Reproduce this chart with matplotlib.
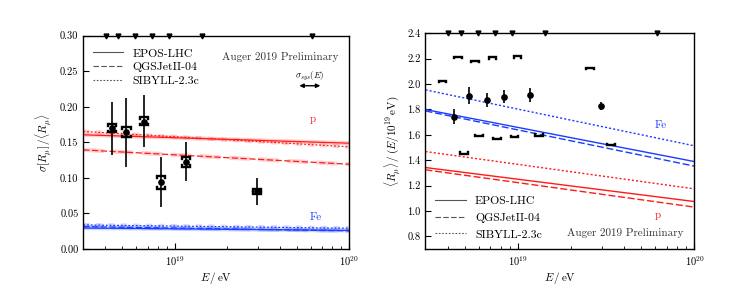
import numpy as np
import matplotlib
matplotlib.use('Agg')
import matplotlib.pyplot as plt
from matplotlib.ticker import FormatStrFormatter, LogLocator, NullFormatter, MultipleLocator
from matplotlib.lines import Line2D

plt.rcParams['font.family'] = 'cmr10'
plt.rcParams['mathtext.fontset'] = 'cm'
plt.rcParams['axes.formatter.use_mathtext'] = True
plt.rcParams['font.size'] = 7.5

# energy bins (log10 E/eV)
lgE = [18.641, 18.724, 18.823, 18.921, 19.066, 19.470]
lgE_edges = [18.607, 18.676, 18.773, 18.870, 18.968, 19.156, 19.788]

# left: sigma[R_mu]/<R_mu>
sig = [0.170, 0.164, 0.179, 0.094, 0.122, 0.081]
sig_stat_lo = [0.132, 0.115, 0.143, 0.059, 0.096, 0.062]
sig_stat_hi = [0.207, 0.212, 0.216, 0.130, 0.150, 0.100]
sig_sys_lo = [0.164, 0.157, 0.174, 0.085, 0.116, 0.078]
sig_sys_hi = [0.176, 0.171, 0.185, 0.102, 0.129, 0.084]

# right: <R_mu>/(E/10^19 eV)
rmu = [1.741, 1.909, 1.875, 1.899, 1.914, 1.828]
rmu_stat_lo = [1.683, 1.841, 1.817, 1.849, 1.862, 1.794]
rmu_stat_hi = [1.804, 1.975, 1.928, 1.954, 1.967, 1.859]
lgE_sys_up = [18.574, 18.659, 18.757, 18.857, 18.998, 19.410]
rmu_sys_up = [2.027, 2.217, 2.185, 2.210, 2.218, 2.128]
lgE_sys_dn = [18.697, 18.781, 18.881, 18.981, 19.119, 19.527]
rmu_sys_dn = [1.450, 1.590, 1.563, 1.582, 1.592, 1.518]

# model predictions at E = 3e18 and 1e20 eV
E_model = [3e18, 1e20]
models = ['EPOS-LHC', 'QGSJetII-04', 'SIBYLL-2.3c']
styles = ['-', (0, (5, 2)), (0, (1.5, 1.5))]
sig_p = [[0.1606, 0.1488], [0.1394, 0.1192], [0.1653, 0.1437]]
sig_fe = [[0.0295, 0.0262], [0.0315, 0.0255], [0.0338, 0.0292]]
rmu_p = [[1.342, 1.074], [1.324, 1.030], [1.468, 1.174]]
rmu_fe = [[1.799, 1.389], [1.788, 1.353], [1.954, 1.513]]

red = '#ff1a1a'
blue = '#1a3cff'

fig = plt.figure(figsize=(7.47, 2.89), dpi=100)
ax1 = fig.add_axes([0.1115, 0.1384, 0.3561, 0.7381])
ax2 = fig.add_axes([0.5696, 0.1384, 0.3601, 0.7464])


def brackets(ax, x, lo, hi, hw, tick):
    for xi, l, h in zip(x, lo, hi):
        xa, xb = 10 ** (xi - hw), 10 ** (xi + hw)
        if h is not None:
            ax.plot([xa, xa, xb, xb], [h - tick, h, h, h - tick], color='k', lw=1.7, zorder=4,
                    solid_joinstyle='miter')
        if l is not None:
            ax.plot([xa, xa, xb, xb], [l + tick, l, l, l + tick], color='k', lw=1.7, zorder=4,
                    solid_joinstyle='miter')


E = 10 ** np.array(lgE)
Eedge = 10 ** np.array(lgE_edges)

# ---- left panel
ax = ax1
for s, p, f in zip(styles, sig_p, sig_fe):
    ax.plot(E_model, p, color=red, lw=3, alpha=0.2, ls=s)
    ax.plot(E_model, p, color=red, lw=0.9, ls=s)
    ax.plot(E_model, f, color=blue, lw=3, alpha=0.2, ls=s)
    ax.plot(E_model, f, color=blue, lw=0.9, ls=s)
ax.vlines(E, sig_stat_lo, sig_stat_hi, color='k', lw=1.2, zorder=3)
brackets(ax, lgE, sig_sys_lo, sig_sys_hi, 0.024, 0.0025)
ax.plot(E, sig, 'o', color='k', ms=3.8, zorder=5)
ax.plot(Eedge, [0.30] * len(Eedge), 'v', color='k', ms=3.5, clip_on=False, zorder=6)
ax.set_ylim(0, 0.30)
ax.yaxis.set_major_locator(MultipleLocator(0.05))
ax.yaxis.set_major_formatter(FormatStrFormatter('%.2f'))
ax.set_ylabel(r'$\sigma[R_\mu]\,/\langle R_\mu\rangle$', fontsize=8)
ax.text(0.96, 0.9, 'Auger 2019 Preliminary', transform=ax.transAxes, ha='right', va='center',
        fontsize=8, color='#333333')
ax.annotate('', xy=(10 ** 19.85, 0.2296), xytext=(10 ** 19.698, 0.2296),
            arrowprops=dict(arrowstyle='<|-|>', color='k', lw=1, mutation_scale=6))
ax.text(10 ** 19.774, 0.2427, r'$\sigma_{sys}(E)$', ha='center', va='center', fontsize=6.5)
ax.text(10 ** 19.793, 0.182, 'p', color=red, ha='center', va='center', fontsize=8)
ax.text(10 ** 19.81, 0.0446, 'Fe', color=blue, ha='center', va='center', fontsize=8)
leg = [Line2D([], [], color='#555555', lw=0.8, ls=s) for s in styles]
ax.legend(leg, models, loc='upper left', bbox_to_anchor=(0.0, 0.985), frameon=False,
          fontsize=8.5, handlelength=2.6, labelspacing=0.3, borderaxespad=0.4)

# ---- right panel
ax = ax2
for s, p, f in zip(styles, rmu_p, rmu_fe):
    ax.plot(E_model, p, color=red, lw=1.0, ls=s)
    ax.plot(E_model, f, color=blue, lw=1.0, ls=s)
ax.vlines(E, rmu_stat_lo, rmu_stat_hi, color='k', lw=1.2, zorder=3)
brackets(ax, lgE_sys_up, [None] * 6, rmu_sys_up, 0.022, 0.012)
brackets(ax, lgE_sys_dn, rmu_sys_dn, [None] * 6, 0.022, 0.012)
ax.plot(E, rmu, 'o', color='k', ms=3.8, zorder=5)
ax.plot(Eedge, [2.4] * len(Eedge), 'v', color='k', ms=3.5, clip_on=False, zorder=6)
ax.set_ylim(0.7, 2.4)
ax.yaxis.set_major_locator(MultipleLocator(0.2))
ax.yaxis.set_major_formatter(FormatStrFormatter('%.1f'))
ax.set_ylabel(r'$\langle R_\mu\rangle\,/\,(E/10^{19}\,\mathrm{eV})$', fontsize=8)
ax.text(0.96, 0.075, 'Auger 2019 Preliminary', transform=ax.transAxes, ha='right', va='center',
        fontsize=8, color='#333333')
ax.text(10 ** 19.807, 1.678, 'Fe', color=blue, ha='center', va='center', fontsize=8)
ax.text(10 ** 19.79, 0.969, 'p', color=red, ha='center', va='center', fontsize=8)
ax.legend(leg, models, loc='lower left', bbox_to_anchor=(0.0, 0.0), frameon=False,
          fontsize=8.5, handlelength=2.6, labelspacing=0.55, borderaxespad=0.4)

for ax in (ax1, ax2):
    ax.set_xscale('log')
    ax.set_xlim(3e18, 1e20)
    ax.xaxis.set_major_locator(LogLocator(base=10))
    ax.xaxis.set_minor_locator(LogLocator(base=10, subs=np.arange(2, 10)))
    ax.xaxis.set_minor_formatter(NullFormatter())
    ax.tick_params(which='both', direction='in', top=False, right=False, labelsize=7.5)
    ax.tick_params(which='major', length=4)
    ax.tick_params(which='minor', length=2.5)
    ax.set_xlabel(r'$E\,/\,\mathrm{eV}$', fontsize=8, labelpad=2)
    for sp in ax.spines.values():
        sp.set_linewidth(1.0)

fig.savefig('out.png', dpi=100)
